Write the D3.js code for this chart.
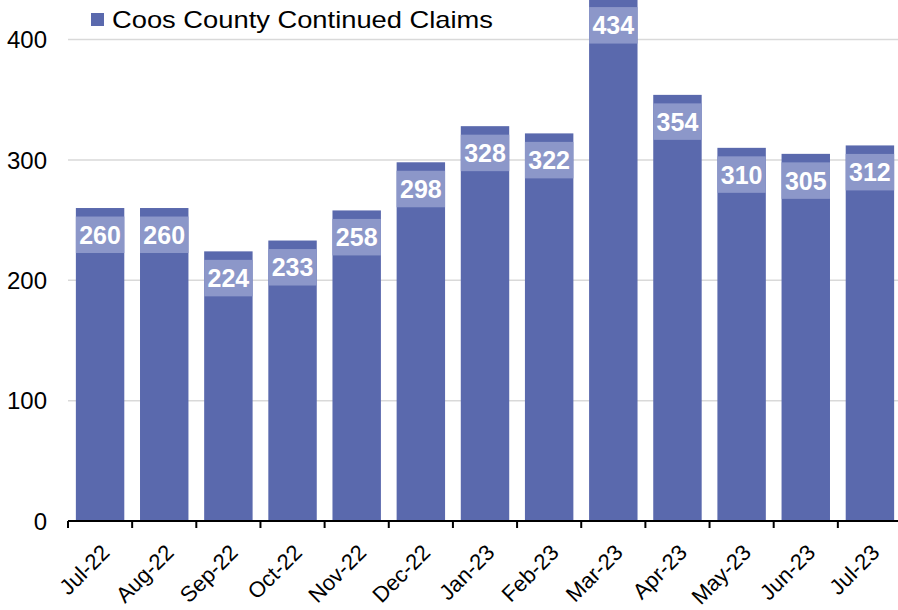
<!DOCTYPE html>
<html><head><meta charset="utf-8">
<script src="https://cdn.jsdelivr.net/npm/d3@7"></script>
<style>body{margin:0;background:#fff;}svg{display:block;}text{font-family:Arial,"Liberation Sans",sans-serif;}</style>
</head><body>
<svg id="chart" width="898" height="610"></svg>
<script>
const categories = ["Jul-22","Aug-22","Sep-22","Oct-22","Nov-22","Dec-22","Jan-23","Feb-23","Mar-23","Apr-23","May-23","Jun-23","Jul-23"];
const values = [260,260,224,233,258,298,328,322,434,354,310,305,312];
const yTicks = [0,100,200,300,400];
const seriesName = "Coos County Continued Claims";

const svg = d3.select("#chart");
const x = d3.scaleBand().domain(categories).range([68, 902]).paddingInner(0.245).paddingOuter(0.1225);
const y = d3.scaleLinear().domain([0,400]).range([521, 39.5]);
const barColor = "#5a69ad", boxColor = "#8c97c9";

// gridlines
svg.append("g").selectAll("line").data(yTicks.filter(d=>d>0)).join("line")
  .attr("x1",68).attr("x2",898).attr("y1",d=>y(d)).attr("y2",d=>y(d))
  .attr("stroke","#d9d9d9").attr("stroke-width",1.5);

// y labels
svg.append("g").selectAll("text").data(yTicks).join("text")
  .attr("x",47).attr("y",d=>y(d)).attr("dy","0.36em").attr("text-anchor","end")
  .attr("font-size",24).attr("fill","#000").text(d=>d);

// bars
svg.append("g").selectAll("rect").data(values).join("rect")
  .attr("x",(d,i)=>x(categories[i])).attr("width",x.bandwidth())
  .attr("y",d=>y(d)).attr("height",d=>y(0)-y(d)).attr("fill",barColor);

// label boxes
svg.append("g").selectAll("rect").data(values).join("rect")
  .attr("x",(d,i)=>x(categories[i])).attr("width",x.bandwidth())
  .attr("y",d=>y(d)+8.5).attr("height",36.5).attr("fill",boxColor);
svg.append("g").selectAll("text").data(values).join("text")
  .attr("x",(d,i)=>x(categories[i])+x.bandwidth()/2).attr("y",d=>y(d)+8.5+18.25)
  .attr("dy","0.36em").attr("text-anchor","middle").attr("font-size",25).attr("font-weight","bold")
  .attr("fill","#fff").text(d=>d);

// x axis
const step = x.step();
const ax = svg.append("g");
ax.append("line").attr("x1",68).attr("x2",902).attr("y1",521).attr("y2",521).attr("stroke","#000").attr("stroke-width",2);
ax.selectAll("line.tick").data(d3.range(categories.length+1)).join("line").attr("class","tick")
  .attr("x1",i=>68+i*step).attr("x2",i=>68+i*step).attr("y1",521).attr("y2",528)
  .attr("stroke","#000").attr("stroke-width",2);
ax.selectAll("text").data(categories).join("text")
  .attr("transform",d=>`translate(${x(d)+x.bandwidth()/2},${543}) rotate(-45)`)
  .attr("text-anchor","end").attr("dy","0.7em").attr("font-size",22).attr("fill","#000").text(d=>d);

// legend
svg.append("rect").attr("x",91).attr("y",13).attr("width",13).attr("height",13).attr("fill",barColor);
svg.append("text").attr("x",112).attr("y",28).attr("font-size",24).attr("fill","#000")
  .attr("textLength",381).attr("lengthAdjust","spacingAndGlyphs").text(seriesName);
</script>
</body></html>
